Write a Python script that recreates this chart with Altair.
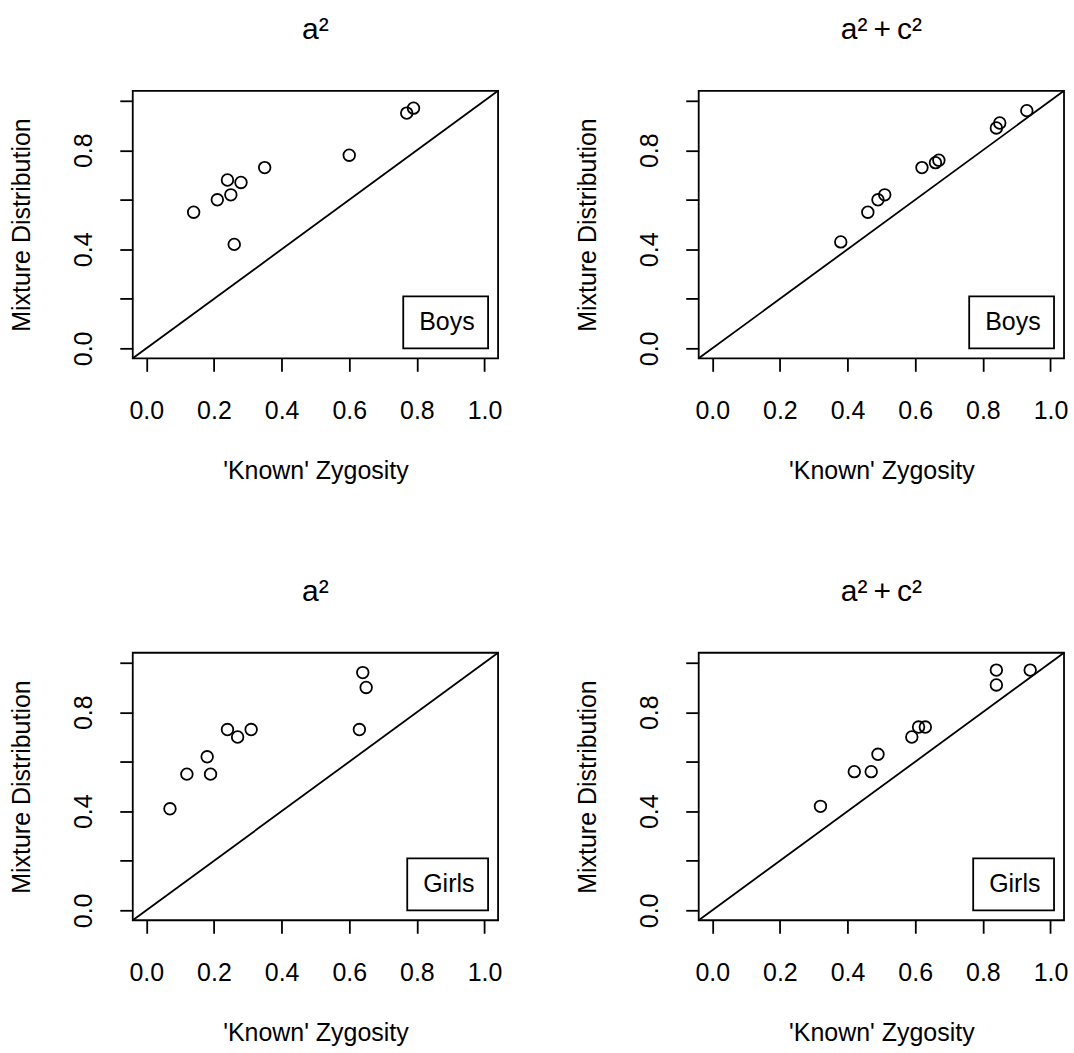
import altair as alt
import pandas as pd

# Estimated zygosity probability: 'known' zygosity vs mixture-distribution estimate
boys_a2_known = [0.14, 0.21, 0.24, 0.25, 0.28, 0.26, 0.35, 0.60, 0.77, 0.79]
boys_a2_mix = [0.55, 0.60, 0.68, 0.62, 0.67, 0.42, 0.73, 0.78, 0.95, 0.97]

boys_ac_known = [0.38, 0.46, 0.49, 0.51, 0.62, 0.66, 0.67, 0.84, 0.85, 0.93]
boys_ac_mix = [0.43, 0.55, 0.60, 0.62, 0.73, 0.75, 0.76, 0.89, 0.91, 0.96]

girls_a2_known = [0.07, 0.12, 0.18, 0.19, 0.24, 0.27, 0.31, 0.63, 0.64, 0.65]
girls_a2_mix = [0.41, 0.55, 0.62, 0.55, 0.73, 0.70, 0.73, 0.73, 0.96, 0.90]

girls_ac_known = [0.32, 0.42, 0.47, 0.49, 0.59, 0.61, 0.63, 0.84, 0.84, 0.94]
girls_ac_mix = [0.42, 0.56, 0.56, 0.63, 0.70, 0.74, 0.74, 0.97, 0.91, 0.97]

panel_titles = ["a²", "a²\u2009+\u2009c²"]
groups = ["Boys", "Girls"]
tick_values = [0.0, 0.2, 0.4, 0.6, 0.8, 1.0]
axis_range = [-0.04, 1.04]

FONT = "Liberation Sans"
LINE_W = 1.8


def panel(known, mix, group, title):
    pts = pd.DataFrame({"known": known, "mix": mix, "group": [group] * len(known)})
    diag = pd.DataFrame({"known": axis_range, "mix": axis_range})

    scale = alt.Scale(domain=axis_range, nice=False, zero=False)
    x = alt.X(
        "known:Q",
        scale=scale,
        axis=alt.Axis(values=tick_values, format=".1f", title="'Known' Zygosity",
                      labelPadding=27, titlePadding=35),
    )
    y = alt.Y(
        "mix:Q",
        scale=scale,
        axis=alt.Axis(
            values=tick_values,
            labelExpr="(abs(datum.value) < 1e-6 || abs(datum.value - 0.4) < 1e-6 || abs(datum.value - 0.8) < 1e-6) ? format(datum.value, '.1f') : ''",
            title="Mixture Distribution",
            labelAngle=270,
            labelAlign="center",
            labelBaseline="bottom",
            labelPadding=23,
            titlePadding=37,
        ),
    )

    identity = alt.Chart(diag).mark_line(color="black", strokeWidth=LINE_W, clip=True).encode(x=x, y=y)
    dots = alt.Chart(pts).mark_point(
        shape="circle", filled=False, size=135, strokeWidth=LINE_W, opacity=1
    ).encode(
        x=x,
        y=y,
        color=alt.Color(
            "group:N",
            scale=alt.Scale(range=["black"]),
            legend=alt.Legend(
                title=None,
                orient="bottom-right",
                offset=10,
                padding=13,
                strokeColor="black",
                fillColor="white",
                labelFont=FONT,
                labelFontSize=25,
                labelColor="black",
                labelOffset={"expr": "-22"},
                symbolSize=1,
                symbolOpacity=0,
                symbolStrokeWidth=0,
            ),
        ),
    )
    return alt.layer(identity, dots).properties(
        width=366,
        height=268,
        title=alt.TitleParams(
            title, font=FONT, fontSize=30, fontWeight="normal", color="black",
            anchor="middle", frame="group", baseline="bottom", offset=16,
        ),
    )


top = alt.hconcat(
    panel(boys_a2_known, boys_a2_mix, groups[0], panel_titles[0]),
    panel(boys_ac_known, boys_ac_mix, groups[0], panel_titles[1]),
    spacing=72,
).resolve_scale(color="independent")

bottom = alt.hconcat(
    panel(girls_a2_known, girls_a2_mix, groups[1], panel_titles[0]),
    panel(girls_ac_known, girls_ac_mix, groups[1], panel_titles[1]),
    spacing=72,
).resolve_scale(color="independent")

chart = (
    alt.vconcat(top, bottom, spacing=92)
    .resolve_scale(color="independent")
    .properties(padding={"left": 9, "top": 13, "right": 5, "bottom": 5}, background="white")
    .configure_view(stroke="black", strokeWidth=LINE_W)
    .configure_legend(strokeWidth=LINE_W)
    .configure_axis(
        domain=False,
        grid=False,
        ticks=True,
        tickColor="black",
        tickWidth=LINE_W,
        tickSize=13,
        labelFont=FONT,
        labelFontSize=25,
        labelColor="black",
        titleFont=FONT,
        titleFontSize=25,
        titleFontWeight="normal",
        titleColor="black",
    )
)

chart.save("out.html", embed_options={"renderer": "svg", "actions": False})
